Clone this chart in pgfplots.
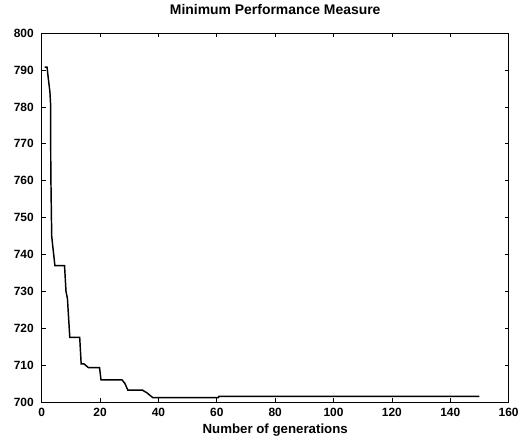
\documentclass[border=0pt]{standalone}
\usepackage{pgfplots}
\pgfplotsset{compat=1.18}
\usepackage{fontspec}
\setmainfont{Liberation Sans}
\begin{document}
\begin{tikzpicture}
\begin{axis}[
    name=main,
    scale only axis,
    width=352pt,
    height=278pt,
    xmin=0, xmax=160,
    ymin=700, ymax=800,
    xtick={0,20,...,160},
    ytick={700,710,...,800},
    tick align=inside,
    tick pos=both,
    major tick length=3pt,
    tick style={black, line width=0.6pt},
    axis line style={line width=0.6pt},
    tick label style={font=\small\bfseries},
    yticklabel style={xshift=-2.5pt},
    xticklabel style={yshift=-1pt},
    /pgf/number format/assume math mode=true,
    title={Minimum Performance Measure},
    title style={font=\fontsize{10.5}{12}\selectfont\bfseries, yshift=4.5pt},
    xlabel={Number of generations},
    xlabel style={font=\fontsize{10}{12}\selectfont\bfseries, yshift=1pt},
]
\addplot[black, line width=1.1pt] coordinates {
    (1,790.8) (1.8,790.8) (2.2,788) (2.8,784) (3,781) (3.1,762) (3.4,745)
    (3.8,742) (4.5,737) (7.8,737) (8.3,730) (8.8,728) (9.6,717.5)
    (13,717.5) (13.5,710.3) (14.5,710.3) (16,709.3) (19.8,709.3)
    (20.3,706) (27.5,706) (28.5,705) (29.5,703.2) (34.5,703.2)
    (36,702.5) (38,701.2) (60.5,701.2) (60.7,701.5) (150,701.5)
};
\end{axis}
\path (main.south west) ++(-31.5pt,0pt) coordinate (a);
\path (main.south east) ++(9pt,0pt) coordinate (b);
\path (main.north west) ++(0pt,25pt) coordinate (c);
\end{tikzpicture}
\end{document}
